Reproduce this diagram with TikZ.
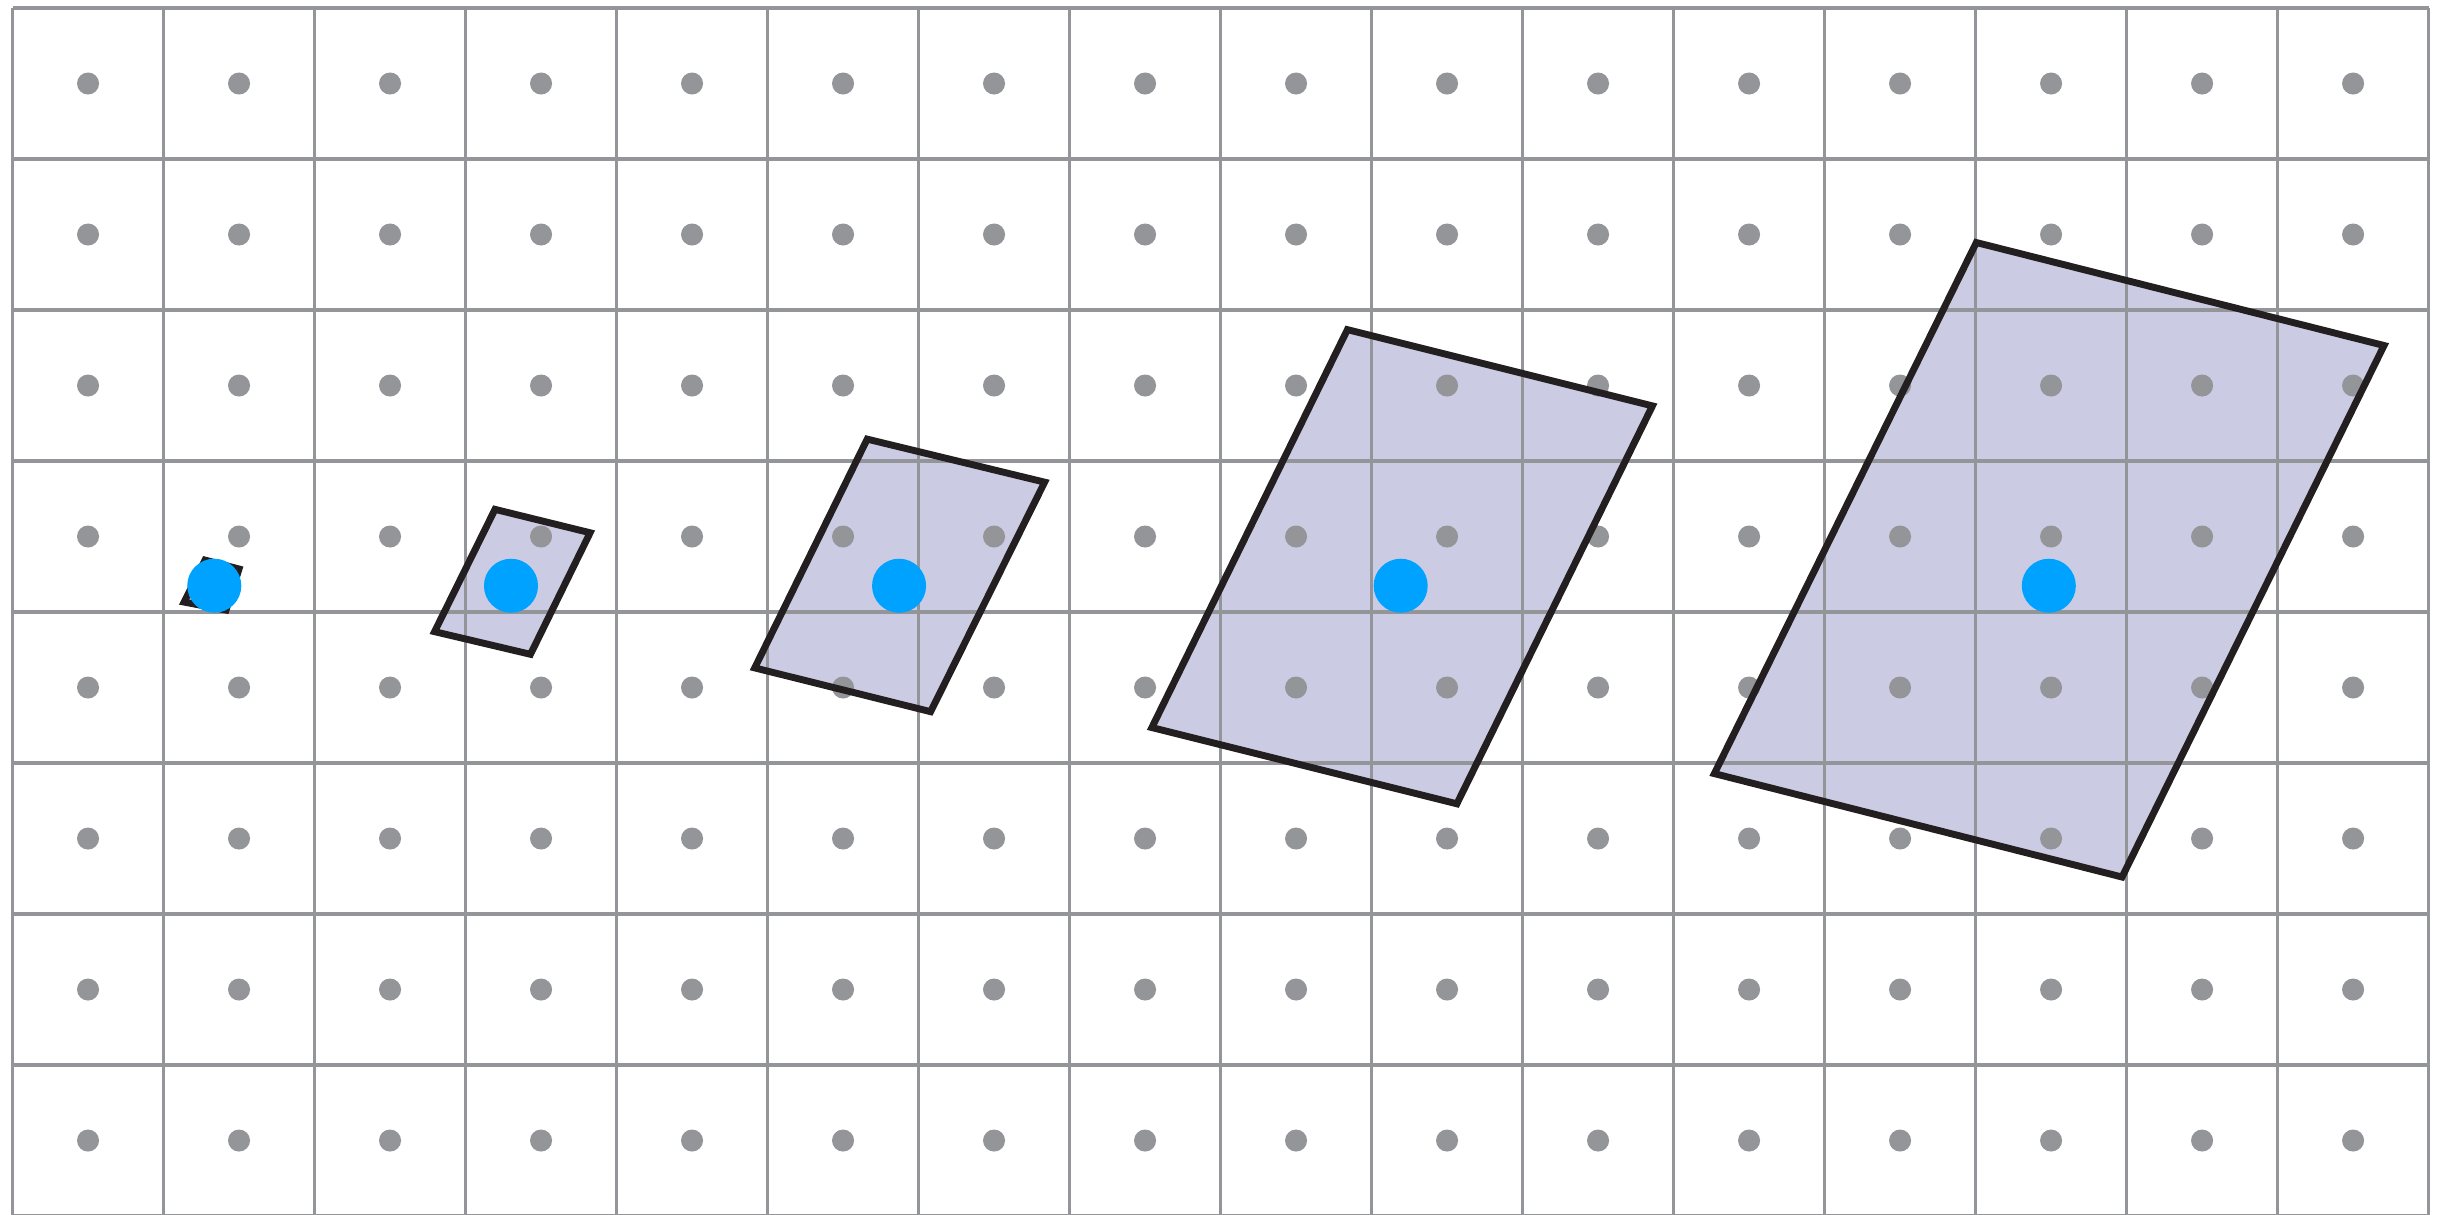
\documentclass[tikz,border=0pt]{standalone}
\usepackage{tikz}

\definecolor{gridgray}{HTML}{939598}
\definecolor{pointblue}{HTML}{00A2FF}
\definecolor{edgeblack}{HTML}{231F20}
\definecolor{patchfill}{HTML}{CBCCE3}

\tikzset{
  gridline/.style={draw=gridgray, line width=0.6pt},
  cellpoint/.style={fill=gridgray},
  patcharea/.style={fill=patchfill},
  patchedge/.style={draw=edgeblack, line width=1.3pt, line join=miter},
  centerpoint/.style={fill=pointblue}
}

\begin{document}
\begin{tikzpicture}

	% Parameters
	\def\ncols{16}
	\def\nrows{8}
	\def\rpt{0.073}   % grey point radius
	\def\rctr{0.179}  % blue point radius
	\def\yc{4.174}    % height of the blue points

	\useasboundingbox (-0.083,0.013) rectangle (16.142,8.053);

	% Patch corners (top, right, bottom, left)
	\coordinate (p1-t) at (1.275,4.344);  \coordinate (p1-r) at (1.500,4.285);
	\coordinate (p1-b) at (1.414,4.013);  \coordinate (p1-l) at (1.136,4.066);
	\coordinate (p2-t) at (3.195,4.680);  \coordinate (p2-r) at (3.825,4.525);
	\coordinate (p2-b) at (3.430,3.720);  \coordinate (p2-l) at (2.795,3.870);
	\coordinate (p3-t) at (5.660,5.145);  \coordinate (p3-r) at (6.835,4.860);
	\coordinate (p3-b) at (6.080,3.340);  \coordinate (p3-l) at (4.915,3.630);
	\coordinate (p4-t) at (8.840,5.870);  \coordinate (p4-r) at (10.860,5.365);
	\coordinate (p4-b) at (9.565,2.730);  \coordinate (p4-l) at (7.545,3.235);
	\coordinate (p5-t) at (13.005,6.447); \coordinate (p5-r) at (15.705,5.765);
	\coordinate (p5-b) at (13.970,2.245); \coordinate (p5-l) at (11.270,2.930);

	% Patch areas below the grid
	\foreach \k in {1,...,5}
		\fill[patcharea] (p\k-t) -- (p\k-r) -- (p\k-b) -- (p\k-l) -- cycle;

	% Grid
	\foreach \i in {0,...,\ncols}
		\draw[gridline] (\i,0) -- (\i,\nrows);
	\foreach \j in {0,...,\nrows}
		\draw[gridline] (0,\j) -- (\ncols,\j);

	% Points at the cell centres
	\foreach \i in {0,...,15}
		\foreach \j in {0,...,7}
			\fill[cellpoint] (\i+0.5,\j+0.5) circle (\rpt);

	% Patch outlines
	\foreach \k in {1,...,5}
		\draw[patchedge] (p\k-t) -- (p\k-r) -- (p\k-b) -- (p\k-l) -- cycle;

	% Centre points
	\foreach \x in {1.336,3.301,5.871,9.193,13.485}
		\fill[centerpoint] (\x,\yc) circle (\rctr);

\end{tikzpicture}
\end{document}
